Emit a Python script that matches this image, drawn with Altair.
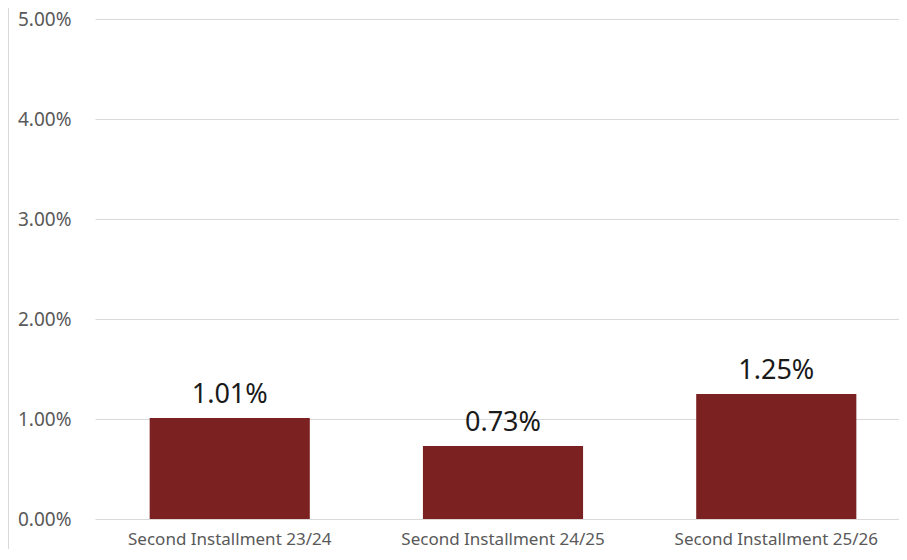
import altair as alt
import pandas as pd

categories = ["Second Installment 23/24", "Second Installment 24/25", "Second Installment 25/26"]
values = [1.01, 0.73, 1.25]
labels = ["1.01%", "0.73%", "1.25%"]

df = pd.DataFrame({"cat": categories, "val": [v / 100 for v in values], "lab": labels})

FONT = "Noto Sans"

x = alt.X("cat:N", sort=categories, title=None,
          scale=alt.Scale(paddingInner=0.414, paddingOuter=0.2, range=[0, 816]),
          axis=alt.Axis(labelAngle=0, ticks=False, domain=False, labelFontSize=17,
                        labelColor="#595959", labelFont=FONT, labelPadding=12,
                        labelLimit=400))
y = alt.Y("val:Q", title=None,
          scale=alt.Scale(domain=[0, 0.05], nice=False),
          axis=alt.Axis(format=".2%", values=[0, 0.01, 0.02, 0.03, 0.04, 0.05],
                        ticks=False, domain=False, labelFontSize=19, labelColor="#595959",
                        labelFont=FONT, labelPadding=24, gridColor="#D9D9D9", gridWidth=1))

bars = alt.Chart(df).mark_bar(color="#7B2121").encode(x=x, y=y)
text = alt.Chart(df).mark_text(fontSize=27, font=FONT, color="#1a1a1a", dy=-15,
                                baseline="alphabetic").encode(x=alt.X("cat:N", sort=categories), y="val:Q", text="lab:N")
border = alt.Chart(pd.DataFrame({"a": [0]})).mark_rule(color="#D9D9D9").encode(
    x=alt.value(-86.5), y=alt.value(-11), y2=alt.value(530))

chart = alt.layer(bars, text, border).properties(
    width=804, height=500,
    autosize=alt.AutoSizeParams(type="none"),
    padding={"left": 87, "top": 11, "right": 0, "bottom": 30},
).configure_view(stroke=None)

chart.save("out.html", embed_options={"renderer": "svg", "actions": False})
